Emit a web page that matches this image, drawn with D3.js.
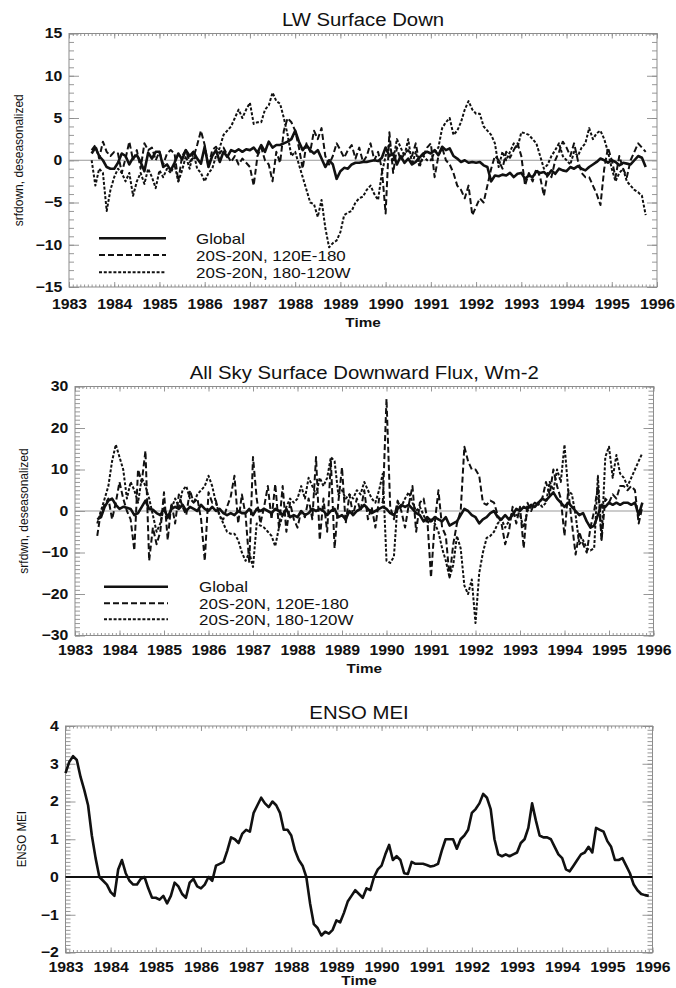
<!DOCTYPE html>
<html>
<head>
<meta charset="utf-8">
<script src="https://cdn.jsdelivr.net/npm/d3@7"></script>
<style>
  body { margin: 0; background: #fff; }
  svg text { font-family: "Liberation Sans", Arial, Helvetica, sans-serif; fill: #111; }
</style>
</head>
<body>
<svg id="chart" width="676" height="988"></svg>
<script>
// ---- data (monthly) ----
var yearTicks = [1983,1984,1985,1986,1987,1988,1989,1990,1991,1992,1993,1994,1995,1996];
var legendNames = ["Global", "20S-20N, 120E-180", "20S-20N, 180-120W"];

// LW Surface Down, Jul 1983 - Oct 1995
var lwStart = 1983.5;
var lwTicks = [-15,-10,-5,0,5,10,15];
var lwGlobal = [
  0.8, 1.5, 0.5, 0.0, -0.8, -1.0,
  -1.0, -0.3, 0.8, 0.5, -0.5, 0.3, 0.6, -0.2, -1.3, 0.9, 0.2, 1.0,
  1.0, -0.8, -0.5, -1.2, -0.3, 0.8, 0.1, 1.2, 0.5, 1.0, 0.2, -0.4,
  1.6, -0.8, 0.5, 1.2, -0.2, 1.0, 0.4, 1.2, 1.0, 1.3, 1.0, 1.3,
  1.2, 1.5, 0.9, 1.8, 1.0, 2.2, 1.5, 1.8, 1.8, 2.0, 2.2, 2.5,
  3.5, 2.2, 1.2, 1.8, 1.2, 0.8, 1.2, 0.2, -0.8, 0.0, -0.5, -2.2,
  -1.3, -0.9, -1.0, -0.5, -0.3, -0.3, -0.2, -0.2, -0.1, 0.0, -0.1, 0.3,
  1.5, 0.5, 0.8, -0.5, 0.5, -0.3, 0.2, -0.5, -0.2, 0.3, 0.8, 1.0,
  0.8, 1.2, 0.6, 1.6, 1.2, 1.4, 0.5, 0.2, -0.2, 0.0, -0.3, -0.2,
  -0.3, -0.2, -0.6, -0.8, -2.5, -1.8, -1.9, -1.7, -1.8, -1.5, -2.0, -1.6,
  -1.5, -2.2, -1.8, -2.0, -1.3, -1.5, -1.4, -1.8, -1.2, -1.6, -1.0, -1.2,
  -1.3, -0.8, -1.0, -0.7, -1.0, -1.2, -0.8, -0.5, -0.2, 0.2, 0.0, -0.3,
  0.0, -0.2, -0.6, -0.3, -0.4, -0.5, 0.0, 0.5, 0.3, -0.8
];
var lwWest = [
  1.2, 1.8, 0.2, 2.2, 1.0, 0.5,
  1.0, 0.8, -1.5, 0.2, 2.2, 0.0, 1.2, -1.0, 2.0, 1.2, 1.5, 0.0,
  1.0, -0.5, 0.8, 1.2, 0.8, -2.5, 0.5, 1.2, -0.2, 0.3, 1.8, 3.5,
  1.8, -0.8, 1.2, 1.6, 0.8, 1.5, 0.6, -0.2, 0.5, -0.5, 0.2, -0.3,
  -0.8, -3.0, 0.5, 1.5, 0.0, -0.5, -2.5, 1.0, -0.3, 3.5, 5.0, 4.5,
  3.5, 1.5, -1.0, 2.0, 1.0, 3.5, 2.5, 3.8, 0.5, -0.5, 0.5, 2.0,
  1.2, 0.3, 1.2, 1.8, 0.2, 1.5, -0.2, 0.5, 2.0, 0.0, 1.0, -1.0,
  -6.3, 3.3, -1.5, 1.5, 0.0, 0.8, 1.2, 0.5, 2.0, -0.5, 0.5, 1.5,
  2.0, -2.0, 0.5, 1.5, 0.0, -0.5, -1.5, -3.0, -3.5, -4.5, -3.0, -6.5,
  -5.5, -4.5, -5.0, -3.0, -1.0, 0.5, 0.0, -1.0, 1.0, 0.3, 1.2, 2.0,
  0.5, -3.0, -1.5, -2.5, -1.0, -2.0, -4.2, -1.5, -2.0, 0.0, 1.0, 2.2,
  1.5, 0.5, 2.0, 0.0, -1.5, -2.0, -2.0, -3.0, -4.0, -5.3, -1.0, 1.5,
  0.0, -2.0, 0.5, -1.0, -2.0, 0.0, 1.0, 2.0, 1.5, 1.0
];
var lwEast = [
  0.0, -3.0, -1.0, -1.5, -6.0, -3.5,
  -2.0, -1.0, -1.5, -2.5, -1.5, -4.2, -2.5, -1.5, -2.8, -1.0, -2.0, -3.3,
  -1.2, -2.0, -1.0, -1.5, -0.5, -2.5, -1.2, 0.5, -1.0, 1.0, -1.0, -1.5,
  -2.5, -1.5, -1.0, 0.5, 1.5, 3.0, 3.5, 4.0, 5.0, 6.0, 5.0, 6.0,
  6.8, 4.3, 4.5, 4.5, 6.0, 6.5, 8.0, 7.0, 6.7, 5.0, 3.0, 0.5,
  1.0, -0.5, -2.0, -3.5, -5.0, -5.2, -6.7, -4.7, -8.0, -10.3, -9.8, -9.5,
  -8.5, -6.5, -6.2, -6.0, -5.0, -4.5, -4.3, -3.5, -3.0, -4.0, -4.7, -1.5,
  0.5, 2.0, 0.0, 2.5, 1.5, 0.5, 2.5, -0.5, 1.0, -0.8, 0.5, 0.0,
  0.0, 1.0, 1.5, 3.8, 4.5, 5.0, 3.0, 3.5, 4.5, 6.0, 7.0, 6.0,
  5.5, 5.5, 4.0, 3.5, 3.0, 2.0, -0.8, 1.0, 0.0, 1.0, 2.0, 1.5,
  3.3, 3.2, 3.0, 2.5, 2.0, 0.5, -1.0, -0.5, 0.5, 1.2, 2.0, 0.5,
  0.0, -0.5, 1.0, 0.5, 1.5, 2.0, 3.8, 2.5, 3.2, 3.5, 2.5, 1.0,
  -1.0, -2.5, -1.5, -1.0, -2.5, -3.0, -3.5, -3.8, -4.2, -6.5
];

// All Sky Surface Downward Flux, Jul 1983 - Oct 1995
var fluxStart = 1983.5;
var fluxTicks = [-30,-20,-10,0,10,20,30];
var fluxGlobal = [
  -2.0, -1.5, 1.0, 2.5, 3.0, 1.5,
  0.5, 1.0, 0.8, 0.5, -1.0, -0.5, 1.0, 2.5, 0.5, 0.3, -0.5, -1.0,
  0.5, -1.5, 0.5, 1.0, 0.5, 1.5, 0.0, 1.0, 0.5, 0.0, 1.5, 0.5,
  0.0, 1.0, 0.0, 0.5, -0.5, -1.0, -0.5, -1.0, 0.0, -0.5, -0.5, 0.5,
  -1.0, 0.5, 0.0, 0.5, 0.0, -0.5, 0.5, 0.0, -1.0, 0.5, -1.5, -1.0,
  -1.5, 0.0, -1.0, -0.5, 0.5, 0.0, 0.5, 0.0, -1.0, 0.0, 0.5, -1.5,
  -1.0, -2.0, 0.0, -1.0, 0.0, 0.5, 1.5, 0.5, -0.5, 0.0, 0.5, 1.0,
  0.5, -0.5, -1.0, 0.5, 1.5, 1.0, 1.5, 0.5, -0.5, -1.0, -2.5, -1.5,
  -2.5, -1.5, -2.0, -2.5, -1.5, -3.5, -3.0, -2.5, -1.0, 0.5, 0.0, -1.0,
  -1.5, -3.0, -2.0, -1.5, -0.5, 0.0, -1.5, -2.0, -1.0, -2.0, -1.0, 0.5,
  0.0, 1.0, 0.5, 1.5, 1.0, 2.0, 3.0, 2.5, 3.5, 4.5, 3.0, 2.0,
  1.0, 2.0, 1.0, 0.0, -1.0, -0.5, -2.5, -4.0, -3.5, -1.0, 1.5, 1.0,
  2.0, 1.5, 2.0, 1.5, 2.0, 2.0, 1.5, 2.0, -1.0, 2.0
];
var fluxWest = [
  -6.0, 0.0, 1.5, 3.0, -2.0, 2.0,
  7.0, 3.0, 0.0, -2.0, -9.5, 10.0, 7.0, 14.5, -12.0, -4.0, -8.0, -5.0,
  4.5, -7.0, 2.0, -3.0, 4.0, 1.0, -1.0, 5.0, 2.0, 3.0, -2.0, -12.0,
  4.5, 2.0, 2.5, -1.5, -2.0, 1.0, 3.5, 8.5, -3.0, 4.0, -1.0, -12.5,
  13.0, 3.0, -3.0, 1.0, 6.0, -2.0, 6.5, -4.0, 6.0, -5.0, 2.0, -2.0,
  -4.0, 0.0, -1.5, 3.0, -2.0, 13.0, -7.0, 3.0, -5.0, 12.0, -9.0, 2.0,
  10.5, -3.0, 4.0, -1.0, 3.0, 0.0, 5.0, -2.0, 1.0, -4.0, 3.0, 2.0,
  27.0, 1.0, -2.0, 2.5, 0.0, -4.0, 1.5, 6.0, -5.0, 2.0, 3.0, -2.0,
  -16.0, -3.0, 5.0, -4.0, -6.0, -16.0, -8.0, -3.0, 0.0, 15.5, 12.0, 10.0,
  10.0, 8.5, 2.0, 1.5, 2.5, 2.0, -1.0, -3.0, -8.0, -5.0, 1.0, -3.0,
  1.0, -9.0, 2.0, 0.0, 2.0, 1.5, 3.0, 7.0, 4.0, 10.0, 6.0, 3.0,
  -6.0, 5.0, -3.0, -10.5, -5.0, -8.0, -10.0, -4.0, 0.0, 6.0, -7.0, 3.0,
  2.0, 4.0, 3.0, 6.0, 6.0, 5.0, 6.0, 5.0, -3.0, 1.0
];
var fluxEast = [
  -3.0, 0.0, 3.0, 6.0, 12.0, 16.0,
  13.0, 10.0, 3.0, 7.0, 5.0, 2.0, 8.0, 6.0, 3.0, -1.0, -5.0, -3.0,
  1.0, -2.0, 0.5, 3.0, 1.0, 5.0, 6.0, 3.0, 2.0, 4.0, 5.0, 6.0,
  8.5, 6.0, 2.0, -1.0, -3.0, -5.0, -5.5, -5.5, -7.0, -10.0, -12.0, -10.0,
  -13.5, -3.0, -3.5, -4.0, -5.0, -6.0, -8.5, -4.0, -1.0, 1.0, 3.0, 2.0,
  3.0, 6.0, 3.0, 8.0, 6.0, 4.0, 8.0, 6.0, 8.0, 13.0, 12.0, 4.0,
  5.0, 3.0, 4.0, 3.0, 5.0, 4.0, 7.0, 5.0, 3.0, 2.0, 5.0, 9.0,
  -12.0, -12.5, -11.0, 2.0, 1.0, 3.0, 4.5, 2.0, 0.0, 1.0, -1.0, -3.0,
  -2.0, -3.0, -5.0, -9.0, -12.0, -16.0, -13.0, -6.0, -9.0, -18.0, -20.0, -16.5,
  -27.0, -15.0, -10.0, -6.5, -6.0, -5.0, -3.0, -2.0, -4.0, -2.5, 0.0, -1.0,
  -1.0, -4.0, 0.0, 1.0, 2.0, 2.0, 1.0, 2.0, 7.0, 5.0, 10.0, 7.0,
  16.0, 5.0, 4.0, -1.0, -8.0, -7.0, -9.0, -9.5, -9.0, 8.5, -7.0, 13.0,
  15.5, 8.0, 13.5, 9.0, 8.0, 6.0, 8.0, 10.0, 12.0, 14.0
];

// ENSO MEI, Jan 1983 - Dec 1995
var meiStart = 1983.0;
var meiTicks = [-2,-1,0,1,2,3,4];
var meiValues = [
  2.75, 3.05, 3.2, 3.1, 2.65, 2.3, 1.9, 1.1, 0.5, 0.0, -0.1, -0.2,
  -0.4, -0.5, 0.2, 0.45, 0.1, -0.1, -0.2, -0.2, -0.05, 0.0, -0.3, -0.55,
  -0.55, -0.6, -0.5, -0.7, -0.5, -0.15, -0.25, -0.45, -0.55, -0.15, -0.05, -0.25,
  -0.3, -0.2, 0.0, -0.1, 0.3, 0.35, 0.4, 0.7, 1.05, 1.0, 0.9, 1.15,
  1.25, 1.2, 1.7, 1.9, 2.1, 1.95, 1.85, 2.0, 1.9, 1.7, 1.25, 1.25,
  1.1, 0.7, 0.45, 0.3, 0.0, -0.7, -1.25, -1.35, -1.55, -1.45, -1.5, -1.4,
  -1.15, -1.2, -0.95, -0.65, -0.5, -0.35, -0.45, -0.55, -0.3, -0.35, 0.0, 0.2,
  0.3, 0.6, 0.85, 0.45, 0.55, 0.45, 0.1, 0.08, 0.4, 0.35, 0.35, 0.35,
  0.32, 0.28, 0.3, 0.35, 0.7, 1.0, 1.0, 1.0, 0.75, 1.0, 1.1, 1.25,
  1.7, 1.8, 1.95, 2.2, 2.1, 1.8, 1.0, 0.6, 0.55, 0.6, 0.55, 0.6,
  0.65, 0.9, 1.0, 1.3, 1.95, 1.5, 1.1, 1.05, 1.05, 1.0, 0.8, 0.6,
  0.5, 0.2, 0.15, 0.3, 0.45, 0.6, 0.65, 0.8, 0.65, 1.3, 1.25, 1.2,
  0.95, 0.8, 0.45, 0.45, 0.5, 0.3, 0.1, -0.2, -0.35, -0.45, -0.48, -0.5
];

// ---- drawing ----
var SX = 1.13; // lettering in the figure is a little stretched sideways
var svg = d3.select("#chart");
var frameColor = "#8c8c8c";

var lineStyles = [
  { dash: null, width: 2.6 },
  { dash: "6,3", width: 2 },
  { dash: "3,1.8", width: 2 }
];

function stretchedText(g, x, y, s, size, weight, rotate) {
  var tr = rotate ? `translate(${x},${y}) rotate(-90) scale(1,${SX})`
                  : `translate(${x},${y}) scale(${SX},1)`;
  return g.append("text")
    .attr("transform", tr)
    .attr("text-anchor", "middle")
    .style("font-size", size + "px")
    .style("font-weight", weight)
    .text(s);
}

function asPoints(start, values) {
  return values.map((v, i) => ({ t: start + i / 12, v: v }));
}

function drawPanel(cfg) {
  var g = svg.append("g");
  var x = d3.scaleLinear().domain([1983, 1996]).range([cfg.x0, cfg.x1]);
  var y = d3.scaleLinear().domain(cfg.yDomain).range([cfg.yBot, cfg.yTop]);
  var months = d3.range(1983, 1996.001, 1 / 12);
  var nMinor = Math.round((cfg.yDomain[1] - cfg.yDomain[0]) / cfg.yMinorStep);
  var yMinor = d3.range(nMinor + 1).map(k => cfg.yDomain[0] + k * cfg.yMinorStep);

  // minor ticks on all four sides
  [[d3.axisBottom(x).tickValues(months), cfg.yBot],
   [d3.axisTop(x).tickValues(months), cfg.yTop]].forEach(function (a) {
    g.append("g").attr("transform", `translate(0,${a[1]})`)
      .call(a[0].tickSize(-2.5).tickFormat(""));
  });
  [[d3.axisLeft(y).tickValues(yMinor), cfg.x0],
   [d3.axisRight(y).tickValues(yMinor), cfg.x1]].forEach(function (a) {
    g.append("g").attr("transform", `translate(${a[1]},0)`)
      .call(a[0].tickSize(-5).tickFormat(""));
  });

  // major ticks
  var bottom = g.append("g").attr("transform", `translate(0,${cfg.yBot})`)
    .call(d3.axisBottom(x).tickValues(yearTicks).tickSize(-5)
      .tickPadding(cfg.xPad).tickFormat(d3.format("d")));
  g.append("g").attr("transform", `translate(0,${cfg.yTop})`)
    .call(d3.axisTop(x).tickValues(yearTicks).tickSize(-5).tickFormat(""));
  var left = g.append("g").attr("transform", `translate(${cfg.x0},0)`)
    .call(d3.axisLeft(y).tickValues(cfg.yTicks).tickSize(-10)
      .tickPadding(6).tickFormat(d3.format("d")));
  g.append("g").attr("transform", `translate(${cfg.x1},0)`)
    .call(d3.axisRight(y).tickValues(cfg.yTicks).tickSize(-10).tickFormat(""));

  g.selectAll(".domain").remove();
  g.selectAll(".tick line").attr("stroke", frameColor).attr("stroke-width", 0.9);
  [bottom, left].forEach(function (ax) {
    ax.selectAll("text")
      .attr("fill", "#111")
      .style("font-family", '"Liberation Sans", Arial, sans-serif')
      .style("font-size", "14px")
      .style("font-weight", "bold")
      .attr("transform", `scale(${SX},1)`);
  });

  // frame
  g.append("rect")
    .attr("x", cfg.x0).attr("y", cfg.yTop)
    .attr("width", cfg.x1 - cfg.x0).attr("height", cfg.yBot - cfg.yTop)
    .attr("fill", "none").attr("stroke", frameColor).attr("stroke-width", 1);

  // zero line
  g.append("line")
    .attr("x1", cfg.x0).attr("x2", cfg.x1)
    .attr("y1", y(0)).attr("y2", y(0))
    .attr("stroke", cfg.zeroColor).attr("stroke-width", cfg.zeroWidth);

  var line = d3.line().x(d => x(d.t)).y(d => y(d.v));
  cfg.series.forEach(function (s, i) {
    var st = lineStyles[i];
    g.append("path")
      .datum(asPoints(s.start, s.values))
      .attr("d", line)
      .attr("fill", "none")
      .attr("stroke", "#111")
      .attr("stroke-width", st.width)
      .attr("stroke-dasharray", st.dash)
      .attr("stroke-linejoin", "round");
  });

  // legend
  if (cfg.legend) {
    var L = cfg.legend;
    L.rows.forEach(function (ry, i) {
      g.append("line")
        .attr("x1", L.x0).attr("x2", L.x1).attr("y1", ry).attr("y2", ry)
        .attr("stroke", "#111")
        .attr("stroke-width", lineStyles[i].width)
        .attr("stroke-dasharray", lineStyles[i].dash);
      g.append("text")
        .attr("transform", `translate(${L.tx},${ry + 5.5}) scale(${SX},1)`)
        .style("font-size", "15px")
        .text(legendNames[i]);
    });
  }

  // titles
  var midX = (cfg.x0 + cfg.x1) / 2;
  stretchedText(g, midX, cfg.titleY, cfg.title, 18, "normal");
  stretchedText(g, midX, cfg.timeY, "Time", 13.5, "bold");
  stretchedText(g, cfg.ytitleX, (cfg.yTop + cfg.yBot) / 2, cfg.ytitle, cfg.ytitleSize, "normal", true);
}

drawPanel({
  x0: 69, x1: 657, yTop: 33.5, yBot: 287, xPad: 12,
  yDomain: [-15, 15], yTicks: lwTicks, yMinorStep: 1,
  title: "LW Surface Down", titleY: 26, timeY: 327,
  ytitle: "srfdown, deseasonalized", ytitleX: 23, ytitleSize: 12,
  zeroColor: "#999", zeroWidth: 1,
  series: [
    { start: lwStart, values: lwGlobal },
    { start: lwStart, values: lwWest },
    { start: lwStart, values: lwEast }
  ],
  legend: { x0: 99, x1: 166, tx: 196, rows: [238.3, 255, 272.3] }
});

drawPanel({
  x0: 75, x1: 653.5, yTop: 386.5, yBot: 635.5, xPad: 10,
  yDomain: [-30, 30], yTicks: fluxTicks, yMinorStep: 1,
  title: "All Sky Surface Downward Flux, Wm-2", titleY: 379, timeY: 673,
  ytitle: "srfdwn, deseasonalized", ytitleX: 28, ytitleSize: 12,
  zeroColor: "#999", zeroWidth: 1,
  series: [
    { start: fluxStart, values: fluxGlobal },
    { start: fluxStart, values: fluxWest },
    { start: fluxStart, values: fluxEast }
  ],
  legend: { x0: 104, x1: 168, tx: 199, rows: [586.7, 603.3, 619.3] }
});

drawPanel({
  x0: 65.5, x1: 652.5, yTop: 726, yBot: 952.5, xPad: 10,
  yDomain: [-2, 4], yTicks: meiTicks, yMinorStep: 0.1,
  title: "ENSO MEI", titleY: 719, timeY: 985,
  ytitle: "ENSO MEI", ytitleX: 26, ytitleSize: 11.5,
  zeroColor: "#111", zeroWidth: 2,
  series: [{ start: meiStart, values: meiValues }]
});
</script>
</body>
</html>
